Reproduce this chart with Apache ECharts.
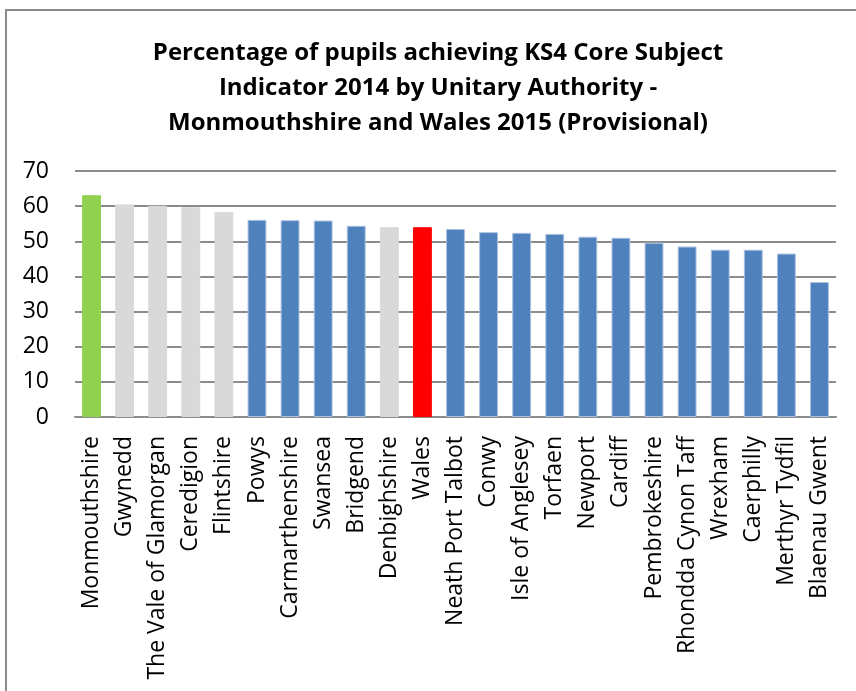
<!DOCTYPE html>
<html>
<head>
<meta charset="utf-8">
<script src="https://cdn.jsdelivr.net/npm/echarts@6/dist/echarts.min.js"></script>
<style>
html,body{margin:0;padding:0;background:#fff;}
#chart{width:856px;height:691px;}
</style>
</head>
<body>
<div id="chart"></div>
<script>
const titleText = "Percentage of pupils achieving KS4 Core Subject\nIndicator 2014 by Unitary Authority -\nMonmouthshire and Wales 2015 (Provisional)";
const categories = ["Monmouthshire","Gwynedd","The Vale of Glamorgan","Ceredigion","Flintshire","Powys","Carmarthenshire","Swansea","Bridgend","Denbighshire","Wales","Neath Port Talbot","Conwy","Isle of Anglesey","Torfaen","Newport","Cardiff","Pembrokeshire","Rhondda Cynon Taff","Wrexham","Caerphilly","Merthyr Tydfil","Blaenau Gwent"];
const values = [63.1,60.5,60.1,59.7,58.3,56.1,56.0,55.9,54.4,54.0,54.0,53.5,52.6,52.4,52.1,51.3,51.0,49.6,48.5,47.6,47.6,46.5,38.4];
const groups = ["focus","comparator","comparator","comparator","comparator","other","other","other","other","comparator","wales","other","other","other","other","other","other","other","other","other","other","other","other"];
const yTicks = [0,10,20,30,40,50,60,70];

const groupColor = {focus:"#92D050", comparator:"#D9D9D9", other:"#4F81BD", wales:"#FF0000"};
const groupBorder = {focus:"#92D050", comparator:"#D9D9D9", other:"#A9C1E0", wales:"#FF0000"};

const chart = echarts.init(document.getElementById('chart'), null, {renderer:'canvas'});
chart.setOption({
  animation:false,
  backgroundColor:'#fff',
  graphic:[{
    type:'rect', shape:{x:6, y:10, width:900, height:800},
    style:{fill:'none', stroke:'#8c8c8c', lineWidth:2}, z:-1
  }],
  title:{
    text:titleText, left:433, top:31, textAlign:'center',
    textStyle:{fontFamily:'Open Sans', fontWeight:'bold', fontSize:24, lineHeight:35, color:'#000'}
  },
  grid:{left:75, right:20, top:171, bottom:274, containLabel:false},
  xAxis:{
    type:'category', data:categories,
    axisLine:{lineStyle:{color:'#8c8c8c', width:2}},
    axisTick:{show:false},
    axisLabel:{rotate:90, interval:0, margin:19, fontFamily:'Open Sans', fontSize:23, color:'#000'}
  },
  yAxis:{
    type:'value', min:yTicks[0], max:yTicks[yTicks.length-1], interval:10,
    axisLine:{show:false}, axisTick:{show:false},
    splitLine:{lineStyle:{color:'#8c8c8c', width:2}},
    axisLabel:{margin:26, fontFamily:'Open Sans', fontSize:23, color:'#000'}
  },
  series:[{
    type:'bar',
    barCategoryGap:'43%',
    data: values.map((v,i)=>({value:v, itemStyle:{color:groupColor[groups[i]], borderColor:groupBorder[groups[i]], borderWidth:1}}))
  }]
});
</script>
</body>
</html>
